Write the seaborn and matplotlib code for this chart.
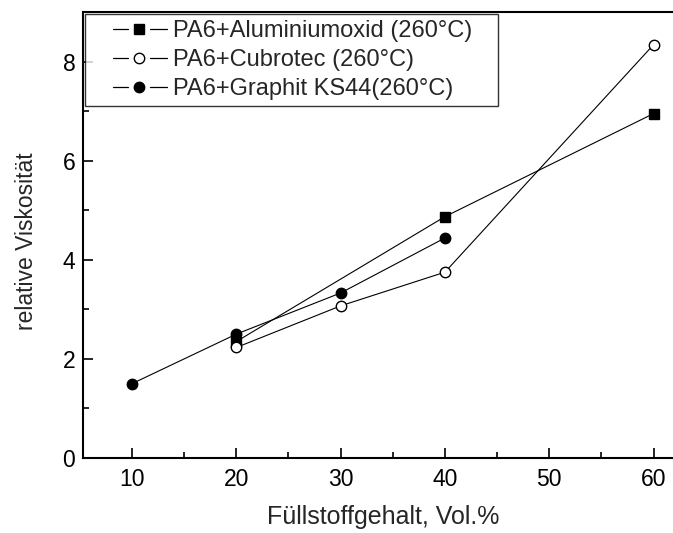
import numpy as np
import pandas as pd
import matplotlib
matplotlib.use("Agg")
from matplotlib import pyplot as plt
from matplotlib.ticker import MultipleLocator
from matplotlib.legend_handler import HandlerBase
from matplotlib.lines import Line2D
import seaborn as sns

sns.set_theme(style="white")
plt.rcParams['font.family'] = ['Liberation Sans', 'DejaVu Sans']

# data
alu_x = [20, 40, 60]
alu_y = [2.35, 4.87, 6.95]
cub_x = [20, 30, 40, 60]
cub_y = [2.23, 3.07, 3.75, 8.34]
gra_x = [10, 20, 30, 40]
gra_y = [1.50, 2.50, 3.33, 4.44]

labels = ["PA6+Aluminiumoxid (260°C)", "PA6+Cubrotec (260°C)", "PA6+Graphit KS44(260°C)"]


class GapHandler(HandlerBase):
    # origin-style legend key: short line, marker, short line
    def create_artists(self, legend, orig_handle, xdescent, ydescent,
                       width, height, fontsize, trans):
        y = height / 2 - ydescent
        f = width / 76.0
        x0 = -xdescent
        left = Line2D([x0 + 22 * f, x0 + 37 * f], [y, y], color="black", lw=0.9)
        right = Line2D([x0 + 59 * f, x0 + 76 * f], [y, y], color="black", lw=0.9)
        mk = Line2D([x0 + 48 * f], [y], linestyle="none",
                    marker=orig_handle.get_marker(),
                    markersize=orig_handle.get_markersize(),
                    markerfacecolor=orig_handle.get_markerfacecolor(),
                    markeredgecolor="black", markeredgewidth=1)
        for a in (left, right, mk):
            a.set_transform(trans)
        return [left, right, mk]


fig = plt.figure(figsize=(6.73, 5.33), dpi=100)
ax = fig.add_axes([83 / 673, (533 - 458) / 533, 630 / 673, (458 - 12) / 533])

sns.lineplot(x=alu_x, y=alu_y, ax=ax, color="black", lw=0.8, marker="s", markersize=6.5,
             markerfacecolor="black", markeredgecolor="black", markeredgewidth=1, legend=False)
sns.lineplot(x=cub_x, y=cub_y, ax=ax, color="black", lw=0.8, marker="o", markersize=7.5,
             markerfacecolor="white", markeredgecolor="black", markeredgewidth=1, legend=False)
sns.lineplot(x=gra_x, y=gra_y, ax=ax, color="black", lw=0.8, marker="o", markersize=7.5,
             markerfacecolor="black", markeredgecolor="black", markeredgewidth=1, legend=False)

ax.set_xlim(5.3, 65.7)
ax.set_ylim(0, 9)
ax.xaxis.set_minor_locator(MultipleLocator(5))
ax.yaxis.set_minor_locator(MultipleLocator(1))
ax.set_xticks([10, 20, 30, 40, 50, 60])
ax.set_yticks([0, 2, 4, 6, 8])
ax.tick_params(which="both", direction="in", left=True, bottom=True, labelsize=16.5,
               colors="black", width=1.2)
ax.tick_params(which="major", length=7.5)
ax.tick_params(which="minor", length=4.5)
ax.tick_params(axis="x", which="major", pad=7)
ax.tick_params(axis="y", which="major", pad=5.5)
for s in ax.spines.values():
    s.set_color("black")
    s.set_linewidth(1.5)

ax.set_xlabel("Füllstoffgehalt, Vol.%", fontsize=18)
ax.set_ylabel("relative Viskosität", fontsize=16.5)
ax.xaxis.set_label_coords((383 - 83) / 630, -47 / 446)
ax.yaxis.set_label_coords((38 - 83) / 630, (458 - 241) / 446)

keys = [Line2D([], [], marker="s", markersize=6.5, markerfacecolor="black"),
        Line2D([], [], marker="o", markersize=7.5, markerfacecolor="white"),
        Line2D([], [], marker="o", markersize=7.5, markerfacecolor="black")]
leg = ax.legend(keys, [t + "   " for t in labels], loc="upper left", fontsize=17,
                frameon=True, fancybox=False, edgecolor="black", borderaxespad=0.1,
                handlelength=3.2, labelspacing=0.3, borderpad=0.25, handletextpad=0.25,
                handler_map={Line2D: GapHandler()})
leg.get_frame().set_linewidth(1)

plt.savefig("out.png", dpi=100)
